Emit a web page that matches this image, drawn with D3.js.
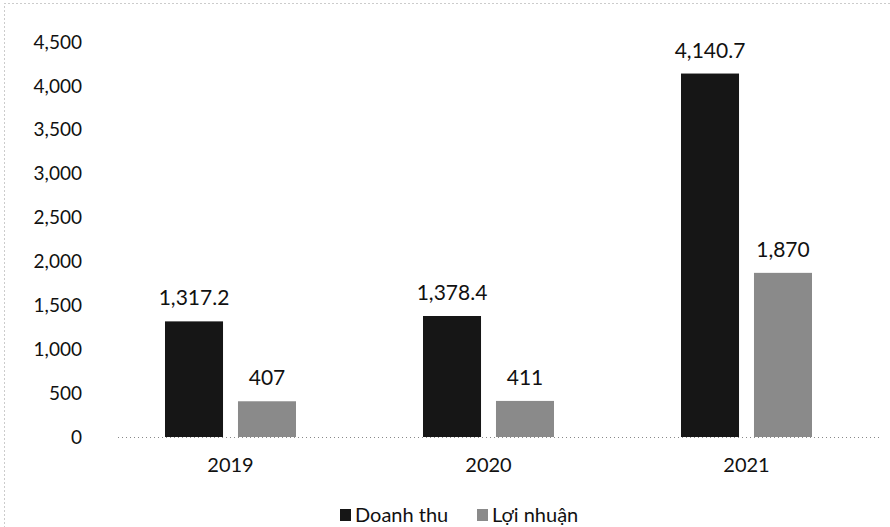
<!DOCTYPE html>
<html lang="vi">
<head>
  <meta charset="UTF-8" />
  <title>Doanh thu và lợi nhuận</title>
  <script src="https://d3js.org/d3.v7.min.js"></script>
  <style>
    body {
      margin: 0;
      padding: 0;
      background: #fff;
      font-family: Lato, "Open Sans", sans-serif;
    }
    svg {
      display: block;
    }
    .tick-label {
      font-size: 19px;
      fill: #111;
    }
    .cat-label {
      font-size: 20px;
      fill: #111;
    }
    .value-label {
      font-size: 21px;
      fill: #111;
    }
    .legend-text {
      font-size: 20px;
      fill: #111;
    }
  </style>
</head>
<body>
  <svg width="890" height="527"></svg>

  <script>
    const years = ["2019", "2020", "2021"];
    const doanhThu = [1317.2, 1378.4, 4140.7];
    const loiNhuan = [407, 411, 1870];
    const seriesNames = ["Doanh thu", "Lợi nhuận"];
    const yTicks = [0, 500, 1000, 1500, 2000, 2500, 3000, 3500, 4000, 4500];

    const colors = ["#161616", "#8a8a8a"];
    const svg = d3.select("svg");

    // dotted frame from the scan
    svg.append("rect")
      .attr("x", 4.5).attr("y", 3.5)
      .attr("width", 900).attr("height", 530)
      .attr("fill", "none")
      .attr("stroke", "#999")
      .attr("stroke-dasharray", "1,3");

    const y = d3.scaleLinear().domain([0, 4500]).range([437, 42]);
    const x = d3.scaleBand().domain(years).range([101.5, 875.5]);
    // 58px bars, 15px gap inside a 258px band
    const xInner = d3.scaleBand().domain(seriesNames).range([0, x.bandwidth()])
      .paddingInner(0.205).paddingOuter(0.87);

    // y tick labels
    svg.append("g")
      .selectAll("text")
      .data(yTicks)
      .join("text")
      .attr("class", "tick-label")
      .attr("x", 82)
      .attr("y", d => y(d))
      .attr("dy", "0.35em")
      .attr("text-anchor", "end")
      .text(d3.format(","));

    // baseline
    svg.append("line")
      .attr("x1", 118).attr("x2", 880)
      .attr("y1", y(0) + 0.5).attr("y2", y(0) + 0.5)
      .attr("stroke", "#888")
      .attr("stroke-dasharray", "1,3");

    const rows = years.map((yr, i) => ({
      year: yr,
      values: [
        { key: seriesNames[0], value: doanhThu[i] },
        { key: seriesNames[1], value: loiNhuan[i] }
      ]
    }));

    const groups = svg.append("g")
      .selectAll("g")
      .data(rows)
      .join("g")
      .attr("transform", d => `translate(${x(d.year)},0)`);

    groups.selectAll("rect")
      .data(d => d.values)
      .join("rect")
      .attr("x", d => xInner(d.key))
      .attr("y", d => y(d.value))
      .attr("width", xInner.bandwidth())
      .attr("height", d => y(0) - y(d.value))
      .attr("fill", (d, i) => colors[i]);

    groups.selectAll("text.value-label")
      .data(d => d.values)
      .join("text")
      .attr("class", "value-label")
      .attr("x", d => xInner(d.key) + xInner.bandwidth() / 2)
      .attr("y", d => y(d.value) - 16)
      .attr("text-anchor", "middle")
      .text(d => d3.format(",")(d.value));

    // category labels
    svg.append("g")
      .selectAll("text")
      .data(years)
      .join("text")
      .attr("class", "cat-label")
      .attr("x", d => x(d) + x.bandwidth() / 2)
      .attr("y", 472)
      .attr("text-anchor", "middle")
      .text(d => d);

    // legend
    const legend = svg.append("g").attr("transform", "translate(340,522)");
    const legendX = [0, 137];
    seriesNames.forEach((name, i) => {
      const item = legend.append("g").attr("transform", `translate(${legendX[i]},0)`);
      item.append("rect")
        .attr("x", 0).attr("y", -13)
        .attr("width", 11).attr("height", 12)
        .attr("fill", colors[i]);
      item.append("text")
        .attr("class", "legend-text")
        .attr("x", 15)
        .attr("y", 0)
        .text(name);
    });
  </script>
</body>
</html>
